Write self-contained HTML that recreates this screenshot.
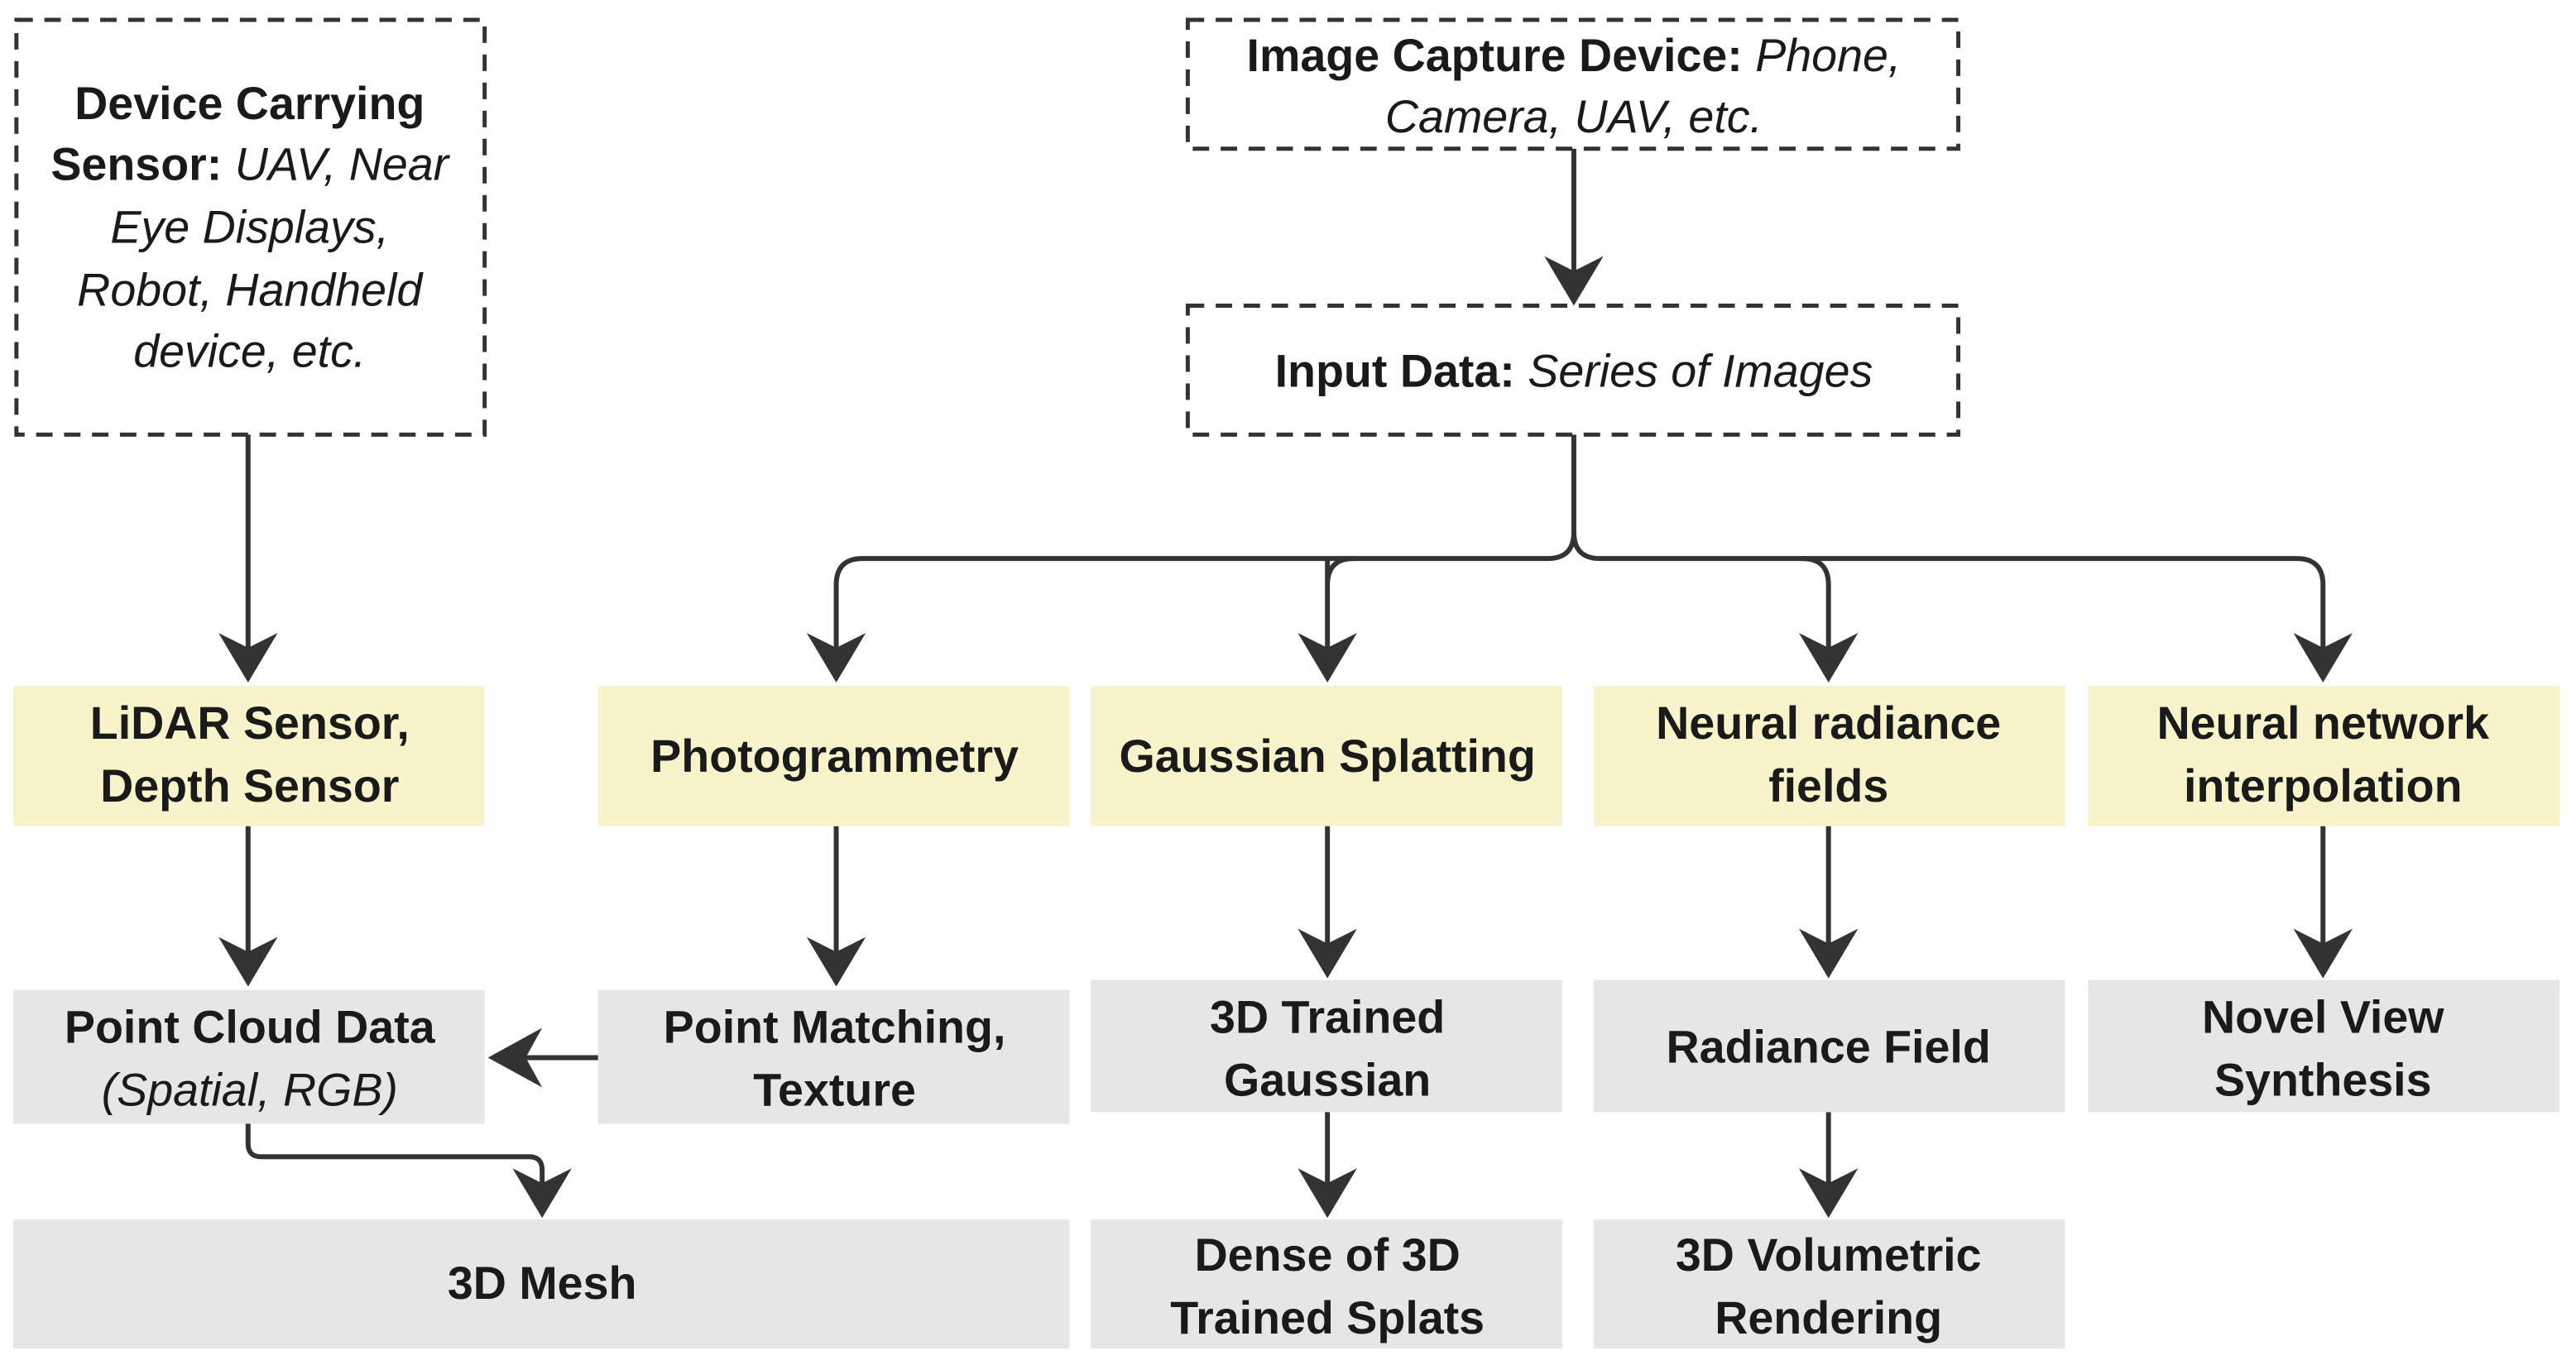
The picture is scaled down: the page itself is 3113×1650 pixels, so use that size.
<!DOCTYPE html>
<html><head><meta charset="utf-8"><style>
html,body{margin:0;padding:0;background:#fff;}
svg{display:block;}
text{font-family:"Liberation Sans",Arial,sans-serif;fill:#1a1a1a;text-anchor:middle;}
.b{font-weight:bold;font-size:28px;}
.i{font-style:italic;font-weight:normal;font-size:28px;}
</style></head><body>
<svg width="3113" height="1650" viewBox="0 0 1568 826" preserveAspectRatio="none" xmlns="http://www.w3.org/2000/svg">
<defs>
<path id="ad" d="M0,0 L-18,-30 L0,-21 L18,-30 Z" fill="#333"/>
</defs>
<g fill="none" stroke="#333" stroke-width="2.5" stroke-dasharray="10,7">
<rect x="10" y="12" width="285" height="251"/>
<rect x="723" y="12" width="469" height="78"/>
<rect x="723" y="185" width="469" height="78"/>
</g>
<g fill="#f8f3cb">
<rect x="8" y="415" width="287" height="85"/>
<rect x="364" y="415" width="287" height="85"/>
<rect x="664" y="415" width="287" height="85"/>
<rect x="970" y="415" width="287" height="85"/>
<rect x="1271" y="415" width="287" height="85"/>
</g>
<g fill="#e6e6e6">
<rect x="8" y="599" width="287" height="81"/>
<rect x="364" y="599" width="287" height="81"/>
<rect x="664" y="593" width="287" height="80"/>
<rect x="970" y="593" width="287" height="80"/>
<rect x="1271" y="593" width="287" height="80"/>
<rect x="8" y="738" width="643" height="78"/>
<rect x="664" y="738" width="287" height="78"/>
<rect x="970" y="738" width="287" height="78"/>
</g>
<g fill="none" stroke="#333" stroke-width="3">
<path d="M151,263 V395"/>
<path d="M958,90 V168"/>
<path d="M958,263 V322 Q958,338 942,338 H525 Q509,338 509,354 V395"/>
<path d="M958,322 Q958,338 974,338 H1398 Q1414,338 1414,354 V395"/>
<path d="M808,338 Q808,338 808,354 V395 M824,338 Q808,338 808,354"/>
<path d="M1097,338 Q1113,338 1113,354 V395"/>
<path d="M151,500 V578"/>
<path d="M509,500 V578"/>
<path d="M808,500 V575"/>
<path d="M1113,500 V575"/>
<path d="M1414,500 V575"/>
<path d="M364,640 H315"/>
<path d="M151,680 V692 Q151,700 159,700 H322 Q330,700 330,708 V720"/>
<path d="M808,673 V720"/>
<path d="M1113,673 V720"/>
</g>
<use href="#ad" x="151" y="413"/>
<use href="#ad" x="958" y="185"/>
<use href="#ad" x="509" y="413"/>
<use href="#ad" x="808" y="413"/>
<use href="#ad" x="1113" y="413"/>
<use href="#ad" x="1414" y="413"/>
<use href="#ad" x="151" y="597"/>
<use href="#ad" x="509" y="597"/>
<use href="#ad" x="808" y="592"/>
<use href="#ad" x="1113" y="592"/>
<use href="#ad" x="1414" y="592"/>
<use href="#ad" x="330" y="737"/>
<use href="#ad" x="808" y="737"/>
<use href="#ad" x="1113" y="737"/>
<path d="M297,640 L330,622 L320,640 L330,658 Z" fill="#333"/>

<text x="152" y="72" class="b">Device Carrying</text>
<text x="152" y="109"><tspan class="b">Sensor: </tspan><tspan class="i">UAV, Near</tspan></text>
<text x="152" y="147" class="i">Eye Displays,</text>
<text x="152" y="185" class="i">Robot, Handheld</text>
<text x="152" y="222" class="i">device, etc.</text>

<text x="958" y="43"><tspan class="b">Image Capture Device: </tspan><tspan class="i">Phone,</tspan></text>
<text x="958" y="80" class="i">Camera, UAV, etc.</text>
<text x="958" y="234"><tspan class="b">Input Data: </tspan><tspan class="i">Series of Images</tspan></text>

<text x="152" y="447" class="b">LiDAR Sensor,</text>
<text x="152" y="485" class="b">Depth Sensor</text>
<text x="508" y="467" class="b">Photogrammetry</text>
<text x="808" y="467" class="b">Gaussian Splatting</text>
<text x="1113" y="447" class="b">Neural radiance</text>
<text x="1113" y="485" class="b">fields</text>
<text x="1414" y="447" class="b">Neural network</text>
<text x="1414" y="485" class="b">interpolation</text>

<text x="152" y="631" class="b">Point Cloud Data</text>
<text x="152" y="669" class="i">(Spatial, RGB)</text>
<text x="508" y="631" class="b">Point Matching,</text>
<text x="508" y="669" class="b">Texture</text>
<text x="808" y="625" class="b">3D Trained</text>
<text x="808" y="663" class="b">Gaussian</text>
<text x="1113" y="643" class="b">Radiance Field</text>
<text x="1414" y="625" class="b">Novel View</text>
<text x="1414" y="663" class="b">Synthesis</text>

<text x="330" y="786" class="b">3D Mesh</text>
<text x="808" y="769" class="b">Dense of 3D</text>
<text x="808" y="807" class="b">Trained Splats</text>
<text x="1113" y="769" class="b">3D Volumetric</text>
<text x="1113" y="807" class="b">Rendering</text>
</svg>
</body></html>
